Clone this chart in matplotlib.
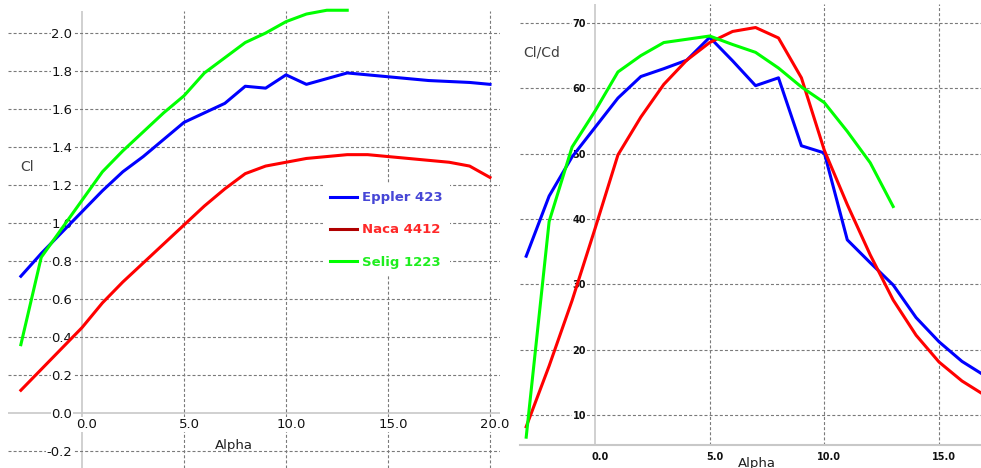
import matplotlib
matplotlib.use("Agg")
import matplotlib.pyplot as plt
from matplotlib.lines import Line2D
from matplotlib.transforms import ScaledTranslation
import numpy as np

# ---------------- data ----------------
alpha_full = list(range(-3, 21))          # Eppler / Naca, Cl chart
alpha_selig = list(range(-3, 14))         # Selig, both charts
alpha_ld = list(range(-3, 18))            # Eppler / Naca, Cl/Cd chart

cl_eppler = [0.72, 0.84, 0.95, 1.06, 1.17, 1.27, 1.35, 1.44, 1.53, 1.58, 1.63, 1.72,
             1.71, 1.78, 1.73, 1.76, 1.79, 1.78, 1.77, 1.76, 1.75, 1.745, 1.74, 1.73]
cl_naca = [0.12, 0.23, 0.34, 0.45, 0.58, 0.69, 0.79, 0.89, 0.99, 1.09, 1.18, 1.26,
           1.30, 1.32, 1.34, 1.35, 1.36, 1.36, 1.35, 1.34, 1.33, 1.32, 1.30, 1.24]
cl_selig = [0.36, 0.82, 0.97, 1.12, 1.27, 1.38, 1.48, 1.58, 1.67, 1.79, 1.87, 1.95,
            2.00, 2.06, 2.10, 2.12, 2.12]

ld_eppler = [34.3, 43.5, 49.5, 54.0, 58.5, 61.8, 63.0, 64.3, 67.8, 64.2, 60.4, 61.6,
             51.2, 50.1, 36.8, 33.3, 29.9, 24.9, 21.2, 18.2, 16.0]
ld_naca = [8.2, 17.5, 27.5, 38.5, 49.8, 55.6, 60.6, 64.3, 67.0, 68.7, 69.3, 67.7,
           61.6, 50.5, 42.2, 34.5, 27.6, 22.2, 18.1, 15.2, 13.0]
ld_selig = [6.6, 39.6, 51.0, 56.5, 62.5, 65.0, 67.0, 67.5, 68.0, 66.7, 65.5, 63.1,
            60.2, 57.8, 53.4, 48.6, 41.9]

series_names = ["Eppler 423", "Naca 4412", "Selig 1223"]
line_colors = ["#0000ff", "#ff0000", "#00ff00"]
legend_handle_colors = ["#0000ff", "#b00000", "#00ff00"]
legend_text_colors = ["#4646d6", "#ff2828", "#1eee1e"]

left_xticks = [0, 5, 10, 15, 20]
left_xlabels = ["0.0", "5.0", "10.0", "15.0", "20.0"]
left_yticks = [-0.2, 0.0, 0.2, 0.4, 0.6, 0.8, 1.0, 1.2, 1.4, 1.6, 1.8, 2.0]
left_ylabels = ["-0.2", "0.0", "0.2", "0.4", "0.6", "0.8", "1.0", "1.2", "1.4", "1.6", "1.8", "2.0"]
right_xticks = [0, 5, 10, 15]
right_xlabels = ["0.0", "5.0", "10.0", "15.0"]
right_yticks = [10, 20, 30, 40, 50, 60, 70]
right_ylabels = ["10", "20", "30", "40", "50", "60", "70"]

# ---------------- figure ----------------
W, H = 981, 468
fig = plt.figure(figsize=(W / 100, H / 100), dpi=100)
fig.patch.set_facecolor("white")

GRID = dict(color="#7a7a7a", linewidth=0.8, linestyle=(0, (2.7, 1.9)))
AXIS_COLOR = "#c8c8c8"
LW = 2.2


def style_axes(ax, xticks, xlabels, yticks, ylabels, tickfont, xpad, ypad, xoff_px):
    ax.set_axisbelow(True)
    ax.set_xticks(xticks)
    ax.set_xticklabels(xlabels, **tickfont)
    ax.set_yticks(yticks)
    ax.set_yticklabels(ylabels, **tickfont)
    ax.tick_params(axis="x", length=0, pad=xpad)
    ax.tick_params(axis="y", length=0, pad=ypad)
    ax.grid(True, **GRID)
    for t, v in zip(ax.xaxis.get_major_ticks(), xticks):
        if v == 0:
            t.gridline.set_visible(False)
    for lbl in ax.get_xticklabels() + ax.get_yticklabels():
        lbl.set_bbox(dict(facecolor="white", edgecolor="none", pad=0.6))
    off = ScaledTranslation(xoff_px / 100, 0, fig.dpi_scale_trans)
    for lbl in ax.get_xticklabels():
        lbl.set_transform(lbl.get_transform() + off)


# ---------- left: Cl ----------
ax1 = fig.add_axes([8 / W, 0, 492 / W, (H - 11) / H])
ax1.set_facecolor("white")
ax1.set_xlim(-3.63, 20.49)
ax1.set_ylim(-0.289, 2.116)
for s in ["top", "right"]:
    ax1.spines[s].set_visible(False)
ax1.spines["left"].set_position(("data", 0))
ax1.spines["bottom"].set_position(("data", 0))
ax1.spines["left"].set_color("none")
ax1.spines["bottom"].set_color("none")
style_axes(ax1, left_xticks, left_xlabels, left_yticks, left_ylabels,
           dict(fontsize=9.5, color="#111111"), xpad=3.5, ypad=7.0, xoff_px=5)
for t, v in zip(ax1.yaxis.get_major_ticks(), left_yticks):
    if abs(v) < 1e-9:
        t.gridline.set_visible(False)
ax1.axhline(0, color=AXIS_COLOR, lw=1.2, zorder=0.3)
ax1.axvline(0, color=AXIS_COLOR, lw=1.2, zorder=0.3)

ax1.plot(alpha_full, cl_eppler, color=line_colors[0], lw=LW, clip_on=False, zorder=3)
ax1.plot(alpha_full, cl_naca, color=line_colors[1], lw=LW, clip_on=False, zorder=3)
ax1.plot(alpha_selig, cl_selig, color=line_colors[2], lw=LW, clip_on=False, zorder=3)

ax1.set_ylabel("Cl", rotation=0, fontsize=10, color="#404040", ha="center", va="center")
ax1.yaxis.set_label_coords(0.0386, 0.659)
ax1.set_xlabel("Alpha", fontsize=9.5, color="#202020", ha="center", va="center",
               bbox=dict(facecolor="white", edgecolor="none", pad=1.5))
ax1.xaxis.set_label_coords(0.460, 0.0503)

handles = [Line2D([], [], color=c, lw=LW) for c in legend_handle_colors]
leg = ax1.legend(handles, series_names, loc="upper left",
                 bbox_to_anchor=((323 - 8) / 492, (H - 184) / (H - 11)),
                 prop=dict(size=9.5, weight="bold"), frameon=True, fancybox=False,
                 handlelength=2.05, handletextpad=0.38, labelspacing=1.45,
                 borderpad=0.55, borderaxespad=0)
leg.get_frame().set_facecolor("white")
leg.get_frame().set_edgecolor("none")
leg.get_frame().set_alpha(1)
for txt, c in zip(leg.get_texts(), legend_text_colors):
    txt.set_color(c)

# ---------- right: Cl/Cd ----------
ax2 = fig.add_axes([520 / W, 23 / H, 461 / W, 441 / H])
ax2.patch.set_alpha(0)
ax2.set_xlim(-3.27, 16.83)
ax2.set_ylim(5.4, 72.9)
for s in ["top", "right"]:
    ax2.spines[s].set_visible(False)
ax2.spines["left"].set_position(("data", 0))
ax2.spines["left"].set_color("none")
ax2.spines["bottom"].set_color(AXIS_COLOR)
ax2.spines["bottom"].set_linewidth(1.5)
style_axes(ax2, right_xticks, right_xlabels, right_yticks, right_ylabels,
           dict(fontsize=7, fontweight="bold", color="#111111"), xpad=5.0, ypad=6.5, xoff_px=5)
ax2.axvline(0, color=AXIS_COLOR, lw=1.2, zorder=0.3)

ax2.plot(alpha_ld, ld_eppler, color=line_colors[0], lw=LW, clip_on=False, zorder=3)
ax2.plot(alpha_ld, ld_naca, color=line_colors[1], lw=LW, clip_on=False, zorder=3)
ax2.plot(alpha_selig, ld_selig, color=line_colors[2], lw=LW, clip_on=False, zorder=3)

ax2.set_ylabel("Cl/Cd", rotation=0, fontsize=10, color="#404040", ha="center", va="center")
ax2.yaxis.set_label_coords(0.048, 0.891)
ax2.set_xlabel("Alpha", fontsize=9.5, color="#202020", ha="center", va="center")
ax2.xaxis.set_label_coords(0.514, -0.041)

fig.savefig("out.png", dpi=100, facecolor="white")
